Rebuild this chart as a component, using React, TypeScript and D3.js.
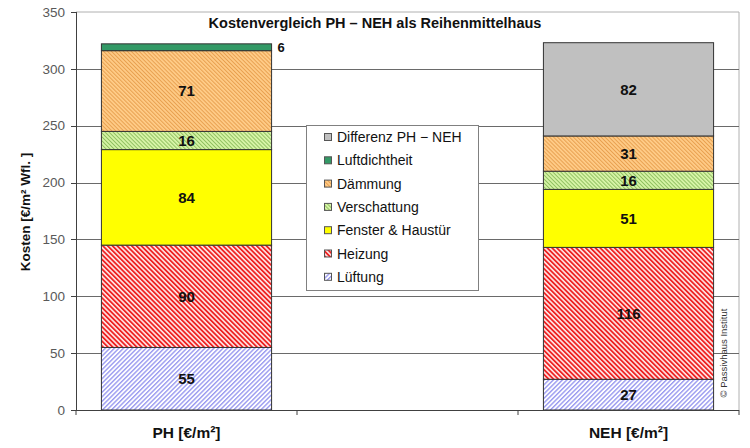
import React from "react";
import * as d3 from "d3";

const categories = ["PH [€/m²]", "", "NEH [€/m²]"];
const seriesNames = [
  "Lüftung",
  "Heizung",
  "Fenster & Haustür",
  "Verschattung",
  "Dämmung",
  "Luftdichtheit",
  "Differenz PH − NEH",
];
const phValues = [55, 90, 84, 16, 71, 6, 0];
const emptyValues = [0, 0, 0, 0, 0, 0, 0];
const nehValues = [27, 116, 51, 16, 31, 0, 82];
const yTicks = [0, 50, 100, 150, 200, 250, 300, 350];
const title = "Kostenvergleich PH – NEH als Reihenmittelhaus";
const yTitle = "Kosten [€/m² Wfl. ]";
const copyright = "© Passivhaus  Institut";

const fills = [
  "url(#pLueft)",
  "url(#pHeiz)",
  "#ffff00",
  "url(#pVersch)",
  "url(#pDaemm)",
  "#339966",
  "#c0c0c0",
];

const FONT = "'Liberation Sans', Arial, Helvetica, sans-serif";

export default function App() {
  const left = 76, right = 739, top = 12, bottom = 410;
  const y = d3.scaleLinear().domain([0, 350]).range([bottom, top]);
  const x = d3.scaleBand<number>().domain([0, 1, 2]).range([left, right]).padding(0);
  const barW = x.bandwidth() * 0.77;

  const rows = [phValues, emptyValues, nehValues].map((vals, i) => {
    const o: any = { idx: i };
    seriesNames.forEach((s, j) => (o[s] = vals[j]));
    return o;
  });
  const stacked = d3.stack<any>().keys(seriesNames)(rows);

  return (
    <div style={{ position: "fixed", left: 0, top: 0 }}>
      <svg width={750} height={448} style={{ display: "block", fontFamily: FONT }}>
        <defs>
          <pattern id="pLueft" patternUnits="userSpaceOnUse" width={3.2} height={3.2} patternTransform="rotate(45)">
            <rect width={3.2} height={3.2} fill="#ffffff" />
            <rect width={1.4} height={3.2} fill="#9a9af0" />
          </pattern>
          <pattern id="pHeiz" patternUnits="userSpaceOnUse" width={3.4} height={3.4} patternTransform="rotate(-45)">
            <rect width={3.4} height={3.4} fill="#ffe8e8" />
            <rect width={1.8} height={3.4} fill="#ee2222" />
          </pattern>
          <pattern id="pDaemm" patternUnits="userSpaceOnUse" width={2.8} height={2.8} patternTransform="rotate(-45)">
            <rect width={2.8} height={2.8} fill="#ffcc88" />
            <rect width={1} height={2.8} fill="#e8a050" />
          </pattern>
          <pattern id="pVersch" patternUnits="userSpaceOnUse" width={2.8} height={2.8} patternTransform="rotate(-45)">
            <rect width={2.8} height={2.8} fill="#d8f5a8" />
            <rect width={1} height={2.8} fill="#90c060" />
          </pattern>
        </defs>
        <rect x={0} y={0} width={750} height={448} fill="#ffffff" />
        {/* plot border */}
        <line x1={left} x2={right} y1={top} y2={top} stroke="#b0b0b0" strokeWidth={1} />
        <line x1={right} x2={right} y1={top} y2={bottom} stroke="#b0b0b0" strokeWidth={1} />
        {/* gridlines */}
        {yTicks.filter((t) => t > 0 && t < 350).map((t) => (
          <line key={t} x1={left} x2={right} y1={Math.round(y(t)) + 0.5} y2={Math.round(y(t)) + 0.5} stroke="#6a6a6a" strokeWidth={1} />
        ))}
        {/* bars */}
        {stacked.map((layer, j) =>
          layer.map((d, i) => {
            const v = d[1] - d[0];
            if (v <= 0) return null;
            const bx = (x(i) as number) + (x.bandwidth() - barW) / 2;
            return (
              <rect key={`${j}-${i}`} x={bx} y={y(d[1])} width={barW} height={y(d[0]) - y(d[1])}
                fill={fills[j]} stroke="#333333" strokeWidth={1} />
            );
          })
        )}
        {/* value labels */}
        {stacked.map((layer, j) =>
          layer.map((d, i) => {
            const v = d[1] - d[0];
            if (v <= 0) return null;
            const cx = (x(i) as number) + x.bandwidth() / 2;
            if (v < 10) {
              return (
                <text key={`l${j}-${i}`} x={cx + barW / 2 + 6} y={y((d[0] + d[1]) / 2)} dy="0.35em"
                  fontSize={13} fontWeight="bold" fill="#111">{v}</text>
              );
            }
            return (
              <text key={`l${j}-${i}`} x={cx} y={y((d[0] + d[1]) / 2)} dy="0.36em" textAnchor="middle"
                fontSize={15} fontWeight="bold" fill="#111">{v}</text>
            );
          })
        )}
        {/* y axis */}
        <line x1={left + 0.5} x2={left + 0.5} y1={top} y2={bottom} stroke="#404040" strokeWidth={1} />
        {yTicks.map((t) => (
          <g key={t}>
            <line x1={left - 5} x2={left} y1={Math.round(y(t)) + 0.5} y2={Math.round(y(t)) + 0.5} stroke="#404040" />
            <text x={left - 11} y={y(t)} dy="0.35em" textAnchor="end" fontSize={13.5} fill="#595959">{t}</text>
          </g>
        ))}
        {/* x axis */}
        <line x1={left} x2={right} y1={bottom + 0.5} y2={bottom + 0.5} stroke="#404040" strokeWidth={1} />
        {[0, 1, 2, 3].map((k) => {
          const xx = left + k * x.step();
          return <line key={k} x1={xx} x2={xx} y1={bottom} y2={bottom + 5} stroke="#404040" />;
        })}
        {categories.map((c, i) =>
          c ? (
            <text key={i} x={(x(i) as number) + x.bandwidth() / 2} y={438} textAnchor="middle" fontSize={15.5} fontWeight="bold" fill="#111">{c}</text>
          ) : null
        )}
        {/* y title */}
        <text transform="translate(30,212) rotate(-90)" textAnchor="middle" fontSize={13.5} fontWeight="bold" fill="#111">{yTitle}</text>
        {/* title */}
        <text x={375} y={28} textAnchor="middle" fontSize={14.5} fontWeight="bold" fill="#111">{title}</text>
        {/* legend */}
        <rect x={306.5} y={125.5} width={172} height={165} fill="#ffffff" stroke="#808080" strokeWidth={1} />
        {seriesNames.slice().reverse().map((s, k) => {
          const j = seriesNames.length - 1 - k;
          const ly = 137 + k * 23.3;
          return (
            <g key={s}>
              <rect x={324.5} y={ly - 3.5} width={7} height={7} fill={fills[j]} stroke="#555" strokeWidth={1} />
              <text x={337} y={ly} dy="0.36em" fontSize={14} fill="#111">{s}</text>
            </g>
          );
        })}
        {/* copyright */}
        <text transform="translate(727,353) rotate(-90)" textAnchor="middle" fontSize={9.5} fill="#333">{copyright}</text>
      </svg>
    </div>
  );
}
